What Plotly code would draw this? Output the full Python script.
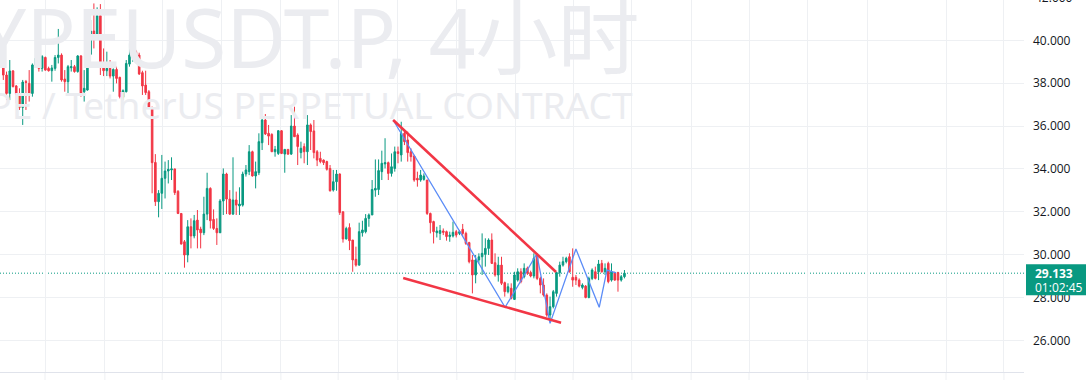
import plotly.graph_objects as go

# ---------------- data (4h candles, HYPEUSDT.P) ----------------
open_ = [39.24, 39.08, 38.38, 37.52, 38.57, 37.87, 37.52, 36.87, 38.07, 37.99,
         37.52, 38.85, 39.16, 38.69, 39.20, 38.69, 38.58, 38.69, 39.20, 39.31,
         38.19, 38.07, 38.72, 38.77, 38.54, 39.27, 37.60, 37.68, 39.35, 40.43,
         40.25, 41.15, 38.96, 38.58, 38.69, 38.33, 38.64, 38.27, 37.34, 37.60,
         38.89, 39.31, 39.47, 39.31, 38.49, 37.91, 37.60, 36.87, 34.30, 32.47,
         32.86, 33.56, 33.90, 33.95, 34.00, 32.95, 31.92, 30.60, 29.98, 31.30,
         30.87, 31.61, 31.19, 31.02, 31.89, 33.09, 31.64, 31.22, 31.02, 32.50,
         33.76, 32.59, 31.89, 32.55, 32.27, 32.31, 33.76, 33.87, 34.80, 33.67,
         33.82, 35.22, 36.28, 35.66, 35.61, 34.80, 34.72, 35.78, 34.69, 34.91,
         34.69, 36.00, 35.58, 34.76, 35.04, 34.80, 36.05, 35.77, 34.80, 34.49,
         34.41, 34.34, 34.02, 33.01, 33.40, 33.76, 32.00, 30.73, 31.26, 30.68,
         29.78, 29.51, 31.02, 31.07, 31.69, 31.85, 33.01, 33.04, 33.87, 34.23,
         34.29, 33.79, 34.02, 34.80, 34.65, 35.66, 35.35, 34.80, 34.60, 33.56,
         33.48, 33.51, 33.48, 31.92, 31.54, 31.02, 30.99, 31.10, 31.07, 30.84,
         30.87, 31.07, 30.99, 31.18, 30.99, 30.56, 29.75, 29.05, 29.75, 29.90,
         30.01, 30.29, 30.68, 29.62, 29.05, 29.51, 28.69, 28.27, 28.43, 27.91,
         28.81, 29.20, 28.97, 29.36, 29.16, 29.00, 29.98, 28.89, 28.58, 28.11,
         27.18, 27.57, 28.19, 29.16, 29.51, 29.67, 29.90, 28.94, 28.94, 28.81,
         28.47, 28.53, 28.00, 28.89, 29.20, 29.20, 29.59, 29.20, 29.59, 28.81,
         29.16, 29.16, 28.81, 28.97]

high = [39.27, 39.20, 38.54, 39.08, 38.61, 37.91, 37.76, 38.15, 38.15, 38.61,
        38.92, 39.31, 39.58, 39.31, 39.24, 38.77, 38.85, 39.31, 40.53, 39.39,
        38.61, 38.85, 39.08, 38.85, 39.31, 39.31, 38.61, 39.39, 40.95, 41.72,
        41.54, 41.69, 39.62, 39.47, 39.08, 38.69, 38.77, 38.30, 37.71, 39.08,
        39.86, 39.86, 39.55, 39.42, 38.58, 38.58, 37.68, 36.90, 34.69, 33.01,
        34.65, 34.34, 34.41, 34.54, 34.00, 33.01, 31.93, 30.68, 31.61, 31.69,
        31.85, 32.08, 31.30, 32.70, 33.82, 33.14, 32.11, 31.69, 32.59, 34.02,
        33.82, 33.01, 34.54, 32.94, 33.14, 33.87, 34.18, 35.11, 34.85, 34.34,
        35.66, 36.36, 36.56, 36.05, 35.66, 35.07, 35.81, 35.81, 34.91, 34.91,
        36.51, 36.90, 35.66, 35.27, 35.19, 36.51, 36.12, 36.28, 34.88, 34.80,
        34.44, 34.38, 34.18, 33.95, 33.95, 33.79, 32.00, 31.30, 31.46, 30.68,
        30.37, 31.49, 31.58, 31.89, 31.92, 33.48, 34.44, 34.44, 34.85, 35.43,
        34.34, 34.72, 35.04, 35.04, 36.20, 35.74, 35.74, 34.96, 34.65, 33.87,
        33.95, 33.79, 33.48, 31.96, 31.58, 31.30, 31.38, 31.22, 31.12, 31.07,
        31.54, 31.15, 31.15, 31.43, 31.07, 30.60, 29.98, 29.98, 30.06, 30.99,
        30.76, 30.76, 30.99, 30.06, 29.90, 29.90, 28.74, 28.66, 28.66, 29.20,
        29.36, 29.36, 29.59, 29.44, 29.25, 30.06, 30.06, 28.97, 28.89, 28.19,
        28.04, 28.35, 29.20, 29.67, 29.90, 29.90, 30.06, 30.29, 29.05, 28.89,
        28.66, 28.58, 28.97, 29.36, 29.44, 29.75, 29.75, 29.59, 29.67, 29.59,
        29.20, 29.20, 29.05, 29.28]

low = [38.92, 38.15, 37.21, 37.21, 37.80, 37.06, 36.75, 36.05, 36.75, 37.14,
       37.37, 38.77, 38.54, 38.54, 38.58, 38.54, 38.07, 38.58, 38.92, 38.07,
       37.60, 37.52, 38.54, 38.49, 38.49, 37.37, 37.14, 37.65, 39.31, 39.62,
       40.25, 38.38, 38.33, 38.33, 38.22, 37.60, 37.99, 37.29, 37.21, 37.57,
       38.77, 39.00, 39.08, 38.38, 37.45, 37.45, 36.82, 32.86, 32.27, 31.74,
       32.13, 32.62, 33.32, 33.48, 32.78, 31.89, 30.48, 29.39, 29.64, 30.29,
       30.76, 30.29, 30.29, 30.91, 31.61, 31.22, 31.15, 30.45, 31.02, 31.85,
       31.89, 31.85, 31.85, 31.85, 31.85, 32.24, 33.64, 33.71, 33.64, 33.09,
       33.71, 34.88, 35.58, 35.11, 34.80, 34.57, 34.65, 34.69, 33.82, 34.65,
       34.65, 35.50, 34.18, 34.49, 34.26, 34.18, 34.88, 34.49, 34.13, 34.26,
       34.18, 33.92, 32.94, 32.94, 32.98, 31.85, 30.56, 30.71, 30.21, 29.20,
       29.44, 29.48, 30.84, 30.99, 31.30, 31.85, 32.70, 32.78, 33.48, 34.02,
       33.48, 33.64, 33.87, 34.26, 34.34, 35.11, 34.34, 34.34, 33.40, 33.17,
       33.40, 33.45, 31.85, 30.99, 30.52, 30.80, 30.68, 30.91, 30.65, 30.60,
       30.80, 30.80, 30.91, 30.84, 30.45, 29.59, 28.19, 28.66, 29.59, 29.05,
       29.44, 29.98, 29.56, 28.97, 28.74, 28.58, 28.04, 28.19, 27.91, 27.88,
       28.74, 28.66, 28.89, 29.05, 28.94, 28.89, 28.81, 28.19, 28.04, 27.10,
       26.95, 27.49, 28.04, 28.97, 29.44, 29.59, 29.16, 28.50, 28.58, 28.47,
       28.38, 27.96, 27.96, 28.81, 28.84, 28.81, 29.16, 29.05, 28.66, 28.74,
       28.78, 28.27, 28.74, 28.89]

close = [39.00, 38.38, 37.52, 38.57, 37.84, 37.49, 36.87, 38.05, 38.04, 37.52,
         38.85, 39.16, 38.69, 39.24, 38.61, 38.58, 38.71, 39.20, 39.31, 38.15,
         38.07, 38.77, 38.77, 38.54, 39.27, 37.52, 37.76, 39.36, 40.43, 40.25,
         41.15, 38.85, 38.58, 38.69, 38.33, 38.64, 38.22, 37.37, 37.65, 38.92,
         39.31, 39.47, 39.31, 38.43, 37.87, 37.56, 36.87, 34.29, 32.47, 32.86,
         33.56, 33.90, 33.98, 34.00, 32.89, 31.92, 30.49, 29.98, 31.30, 30.87,
         31.58, 31.15, 31.02, 31.89, 33.09, 31.58, 31.22, 31.02, 32.50, 33.76,
         32.59, 31.89, 32.55, 32.31, 32.36, 33.76, 33.95, 34.80, 33.67, 33.87,
         35.27, 36.28, 35.63, 35.53, 34.80, 34.91, 35.78, 34.72, 34.91, 34.69,
         36.00, 35.50, 35.04, 34.96, 34.80, 36.05, 35.74, 34.76, 34.41, 34.34,
         34.29, 33.98, 32.98, 33.40, 33.76, 31.96, 30.73, 31.22, 30.65, 29.75,
         29.51, 31.07, 31.15, 31.69, 31.85, 33.04, 33.09, 33.92, 34.26, 34.29,
         33.79, 34.10, 34.80, 34.72, 35.66, 35.27, 34.76, 34.57, 33.48, 33.48,
         33.71, 33.67, 31.92, 31.49, 31.07, 31.10, 31.12, 31.04, 30.84, 30.91,
         31.04, 30.91, 31.07, 30.99, 30.52, 29.67, 29.05, 29.75, 29.90, 30.06,
         30.29, 30.68, 29.59, 29.05, 29.51, 28.66, 28.27, 28.50, 27.96, 29.05,
         29.20, 28.74, 29.36, 29.13, 29.00, 29.83, 28.89, 28.58, 28.11, 27.18,
         27.57, 28.27, 29.16, 29.51, 29.67, 29.83, 29.20, 28.81, 28.81, 28.53,
         28.58, 28.00, 28.89, 29.28, 28.89, 29.56, 29.20, 29.36, 28.74, 29.20,
         28.81, 28.81, 28.97, 29.133]

# drawings (x in candle index units, y in price)
upper_trend_x = [121.5, 171.85]
upper_trend_y = [36.28, 29.19]
lower_trend_x = [124.6, 173.4]
lower_trend_y = [28.91, 26.82]
zigzag_x = [121.5, 156.1, 165.9, 170.0, 178.0, 185.2, 187.6, 190.4]
zigzag_y = [36.28, 27.54, 30.03, 26.79, 30.26, 27.54, 29.28, 29.15]

price_ticks = [26, 28, 30, 32, 34, 36, 38, 40]
top_cut_tick = 42
time_grid = [13.9, 32.4, 50.1, 68.3, 86.8, 104.5, 123.0, 141.2, 159.2, 177.1,
             195.3, 213.6, 231.5, 249.7, 268.0, 292.4, 310.3]
last_price = 29.133
countdown = "01:02:45"
title_line1 = "HYPEUSDT.P, 4小时"
title_line2 = "HYPE / TetherUS PERPETUAL CONTRACT"

# ---------------- figure ----------------
UP = "#089981"
DN = "#F23645"
GRID = "#EEF0F3"
WM = "#EBECF0"
Y_MIN, Y_MAX = 24.522, 41.8805
X_MIN, X_MAX = -0.02, 316.5
W, H = 1087, 380
PLOT_W, PLOT_H = 1024, 372

x = list(range(len(open_)))
hi = [max(h, o, c) for h, o, c in zip(high, open_, close)]
lo = [min(l_, o, c) for l_, o, c in zip(low, open_, close)]

fig = go.Figure()
fig.add_trace(go.Candlestick(
    x=x, open=open_, high=hi, low=lo, close=close,
    increasing=dict(line=dict(color=UP, width=1), fillcolor=UP),
    decreasing=dict(line=dict(color=DN, width=1), fillcolor=DN),
    whiskerwidth=0, showlegend=False, hoverinfo="skip",
))
fig.add_trace(go.Scatter(x=zigzag_x, y=zigzag_y, mode="lines",
                         line=dict(color="#5B8CF7", width=1.3),
                         showlegend=False, hoverinfo="skip"))
fig.add_trace(go.Scatter(x=upper_trend_x, y=upper_trend_y, mode="lines",
                         line=dict(color=DN, width=2.6),
                         showlegend=False, hoverinfo="skip"))
fig.add_trace(go.Scatter(x=lower_trend_x, y=lower_trend_y, mode="lines",
                         line=dict(color=DN, width=2.6),
                         showlegend=False, hoverinfo="skip"))


def ypaper(v):
    return (v - Y_MIN) / (Y_MAX - Y_MIN)


yp = ypaper(last_price)

shapes = [
    dict(type="line", xref="paper", yref="y", x0=0, x1=1, y0=last_price, y1=last_price,
         line=dict(color=UP, width=1, dash="1px,2px"), layer="below"),
    dict(type="rect", xref="paper", yref="paper",
         x0=1026 / PLOT_W, x1=1086 / PLOT_W,
         y0=yp - 22 / PLOT_H, y1=yp + 9 / PLOT_H,
         fillcolor=UP, line=dict(width=0), layer="above"),
]
# time grid lines continue through the (empty) time-scale strip below the pane
for gx in time_grid:
    shapes.append(dict(type="line", xref="x", yref="paper", x0=gx, x1=gx,
                       y0=-(H - PLOT_H) / PLOT_H, y1=0,
                       line=dict(color=GRID, width=1), layer="below"))

annotations = [
    dict(text=title_line1, xref="paper", yref="paper", x=642 / PLOT_W, y=1 - 36 / PLOT_H,
         xanchor="right", yanchor="middle", showarrow=False,
         font=dict(family="Noto Sans, Noto Sans CJK SC", size=82, color=WM)),
    dict(text=title_line2, xref="paper", yref="paper", x=635 / PLOT_W, y=1 - 105 / PLOT_H,
         xanchor="right", yanchor="middle", showarrow=False,
         font=dict(family="Noto Sans", size=37, color=WM)),
    dict(text="<b>%.3f</b>" % last_price, xref="paper", yref="paper",
         x=1033 / PLOT_W, y=yp, xanchor="left", yanchor="middle", showarrow=False,
         font=dict(family="Open Sans", size=12, color="white")),
    dict(text=countdown, xref="paper", yref="paper",
         x=1033 / PLOT_W, y=yp - 14 / PLOT_H, xanchor="left", yanchor="middle", showarrow=False,
         font=dict(family="Open Sans", size=12, color="white")),
    dict(text="%.3f" % top_cut_tick, xref="paper", yref="paper", x=1033 / PLOT_W,
         y=ypaper(top_cut_tick), xanchor="left", yanchor="middle", showarrow=False,
         font=dict(family="Open Sans", size=12, color="#131722")),
]

fig.update_layout(
    width=W, height=H,
    margin=dict(l=0, r=W - PLOT_W, t=0, b=H - PLOT_H),
    paper_bgcolor="white", plot_bgcolor="white",
    shapes=shapes, annotations=annotations,
    boxgap=0.3,
    xaxis=dict(range=[X_MIN, X_MAX], showticklabels=False, tickvals=time_grid,
               showgrid=True, gridcolor=GRID, gridwidth=1, zeroline=False,
               showline=True, linecolor="#E0E3EB", linewidth=1, ticks="",
               rangeslider=dict(visible=False), fixedrange=True),
    yaxis=dict(range=[Y_MIN, Y_MAX], side="right", tickvals=price_ticks,
               tickformat=".3f", showgrid=True, gridcolor=GRID, gridwidth=1,
               zeroline=False, showline=False, ticks="", ticklabelstandoff=8,
               tickfont=dict(family="Open Sans", size=12, color="#131722"),
               fixedrange=True),
)

fig.write_html("out.html")
